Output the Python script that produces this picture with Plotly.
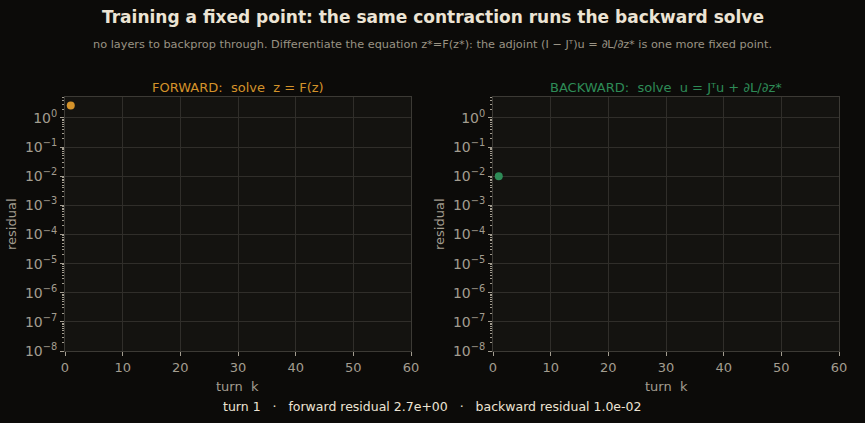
import plotly.graph_objects as go

# data
turns_fwd = [1]
resid_fwd = [2.7]
turns_bwd = [1]
resid_bwd = [1.0e-2]
x_ticks = [0, 10, 20, 30, 40, 50, 60]
y_exps = [-8, -7, -6, -5, -4, -3, -2, -1, 0]

BG = "#0c0b09"
PLOT_BG = "#141310"
GRID = "#302e2a"
SPINE = "#3c3a35"
TICK = "#a39d90"
FWD = "#d4922a"
BWD = "#2e8b57"
FONT = "DejaVu Sans"

fig = go.Figure()
fig.add_trace(go.Scatter(x=turns_fwd, y=resid_fwd, mode="markers",
                         marker=dict(color=FWD, size=8), xaxis="x", yaxis="y", showlegend=False))
fig.add_trace(go.Scatter(x=turns_bwd, y=resid_bwd, mode="markers",
                         marker=dict(color=BWD, size=8), xaxis="x2", yaxis="y2", showlegend=False))

yt_vals = [10.0 ** e for e in y_exps]
yt_text = ["10<sup>%s</sup>" % (str(e).replace("-", "\u2212")) for e in y_exps]

def xax(domain, anchor):
    return dict(domain=domain, anchor=anchor, range=[0, 60], tickvals=x_ticks,
                showgrid=True, gridcolor=GRID, gridwidth=1, zeroline=False,
                showline=True, linecolor=SPINE, mirror=True, automargin=False,
                ticks="outside", ticklen=4, tickcolor=TICK,
                tickfont=dict(family=FONT, size=13, color=TICK))

def yax(domain, anchor):
    return dict(domain=domain, anchor=anchor, type="log", range=[-8, 0.72],
                tickvals=yt_vals, ticktext=yt_text,
                showgrid=True, gridcolor=GRID, gridwidth=1, zeroline=False,
                showline=True, linecolor=SPINE, mirror=True, automargin=False,
                ticks="outside", ticklen=4, tickcolor=TICK,
                minor=dict(ticks="outside", ticklen=2, tickcolor=TICK, dtick="D1", showgrid=False),
                tickfont=dict(family=FONT, size=14, color=TICK))

L1, R1, L2, R2 = 65, 411, 493, 839
TOP, BOT = 97, 351
W, H = 865, 423
ydom = [1 - BOT / H, 1 - TOP / H]

def ann(text, xp, yp, size, color, angle=0, bold=False):
    return dict(text=("<b>%s</b>" % text) if bold else text, x=xp / W, y=1 - yp / H,
                xref="paper", yref="paper", showarrow=False, textangle=angle,
                xanchor="center", yanchor="middle", font=dict(family=FONT, size=size, color=color))

fig.update_layout(
    width=W, height=H,
    margin=dict(l=0, r=0, t=0, b=0),
    paper_bgcolor=BG, plot_bgcolor=PLOT_BG,
    xaxis=xax([L1 / W, R1 / W], "y"),
    yaxis=yax(ydom, "x"),
    xaxis2=xax([L2 / W, R2 / W], "y2"),
    yaxis2=yax(ydom, "x2"),
    annotations=[
        ann("Training a fixed point: the same contraction runs the backward solve", 433, 17, 17, "#ece4d4", bold=True),
        ann("no layers to backprop through. Differentiate the equation z*=F(z*): the adjoint (I \u2212 J\u1d40)u = \u2202L/\u2202z* is one more fixed point.",
            432, 44, 11.3, "#9a9384"),
        ann("FORWARD:  solve  z = F(z)", (L1 + R1) / 2, 88, 13, FWD),
        ann("BACKWARD:  solve  u = J\u1d40u + \u2202L/\u2202z*", (L2 + R2) / 2, 88, 13, BWD),
        ann("residual", 11, (TOP + BOT) / 2, 13, TICK, angle=-90),
        ann("residual", 439, (TOP + BOT) / 2, 13, TICK, angle=-90),
        ann("turn  k", (L1 + R1) / 2, 386, 13, TICK),
        ann("turn  k", (L2 + R2) / 2, 386, 13, TICK),
        ann("turn 1   \u00b7   forward residual %.1e   \u00b7   backward residual %.1e" % (resid_fwd[-1], resid_bwd[-1]),
            432, 406, 12.5, "#ece4d4"),
    ],
)

fig.write_html("out.html")
